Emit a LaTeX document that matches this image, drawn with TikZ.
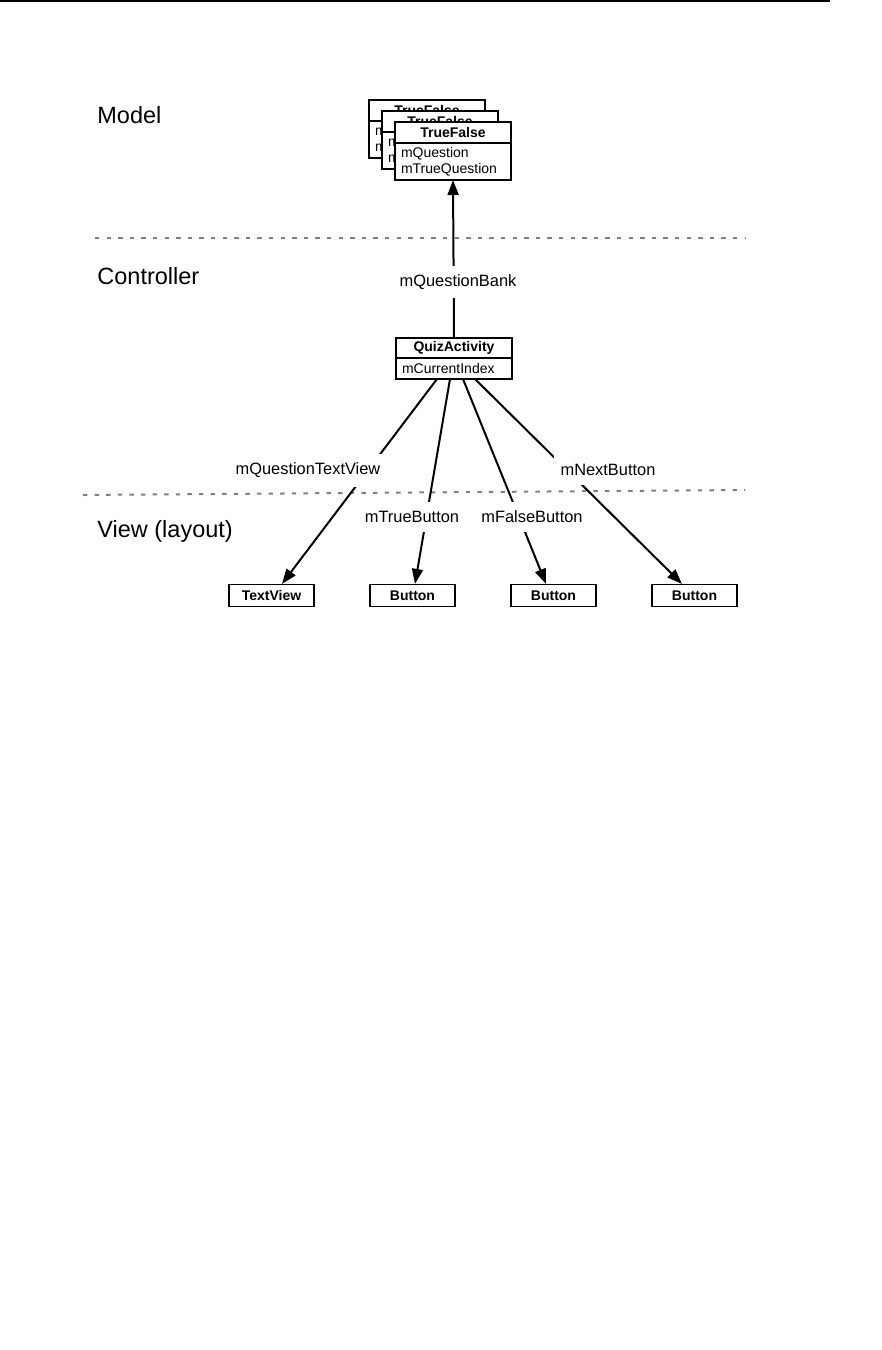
\documentclass[tikz,border=0pt]{standalone}
\usepackage{fontspec}
\setmainfont{Liberation Sans}
\usetikzlibrary{arrows.meta,calc,positioning}

\tikzset{
  cls/.style={draw, line width=0.6pt, fill=white, outer sep=0pt, inner sep=0pt,
    font=\fontsize{7}{8}\selectfont\bfseries, minimum width=58pt, minimum height=10.5pt},
  attrs/.style={draw, line width=0.6pt, fill=white, outer sep=0pt, inner xsep=3pt, inner ysep=0pt,
    font=\fontsize{7}{8}\selectfont, text width=52pt, align=left},
  wid/.style={draw, line width=0.6pt, fill=white, inner sep=0pt,
    font=\fontsize{7}{8}\selectfont\bfseries, minimum width=42.5pt, minimum height=11pt},
  conn/.style={line width=1pt, -{Triangle[length=7.5pt,width=5.5pt]}},
  lbl/.style={fill=white, font=\fontsize{8.2}{10}\selectfont, inner xsep=3.5pt, inner ysep=4.5pt},
  tier/.style={font=\fontsize{11.75}{14}\selectfont, anchor=base west, inner sep=0pt},
  layersep/.style={gray, line width=1pt, dash pattern=on 2.2pt off 3.6pt},
}

\begin{document}
\begin{tikzpicture}[x=0.5pt, y=-0.5pt]
            \useasboundingbox (0,0) rectangle (882,1350);
            \draw[line width=1pt] (0,1) -- (830,1);
            % layers
            \node[tier] (model) at (97,123) {Model};
            \node[tier] (ctrl) at (97,284) {Controller};
            \node[tier] (view) at (97,537) {View (layout)};
            \draw[layersep] (95,238) -- (745,238);
            \draw[layersep] (83,495) -- (745,490);
            % model objects
            \foreach \k in {1,2,3} {
                \node[cls, anchor=north west] (tf\k) at ({369+13*(\k-1)},{100+11*(\k-1)}) {TrueFalse};
                \node[attrs, minimum height=18.5pt, below=0pt of tf\k] (at\k) {mQuestion\\mTrueQuestion};
            }
            % controller
            \node[cls, minimum height=10pt, anchor=north west] (qz) at (396,338) {QuizActivity};
            \node[attrs, minimum height=10.5pt, below=0pt of qz] (qa) {mCurrentIndex};
            % widgets
            \node[wid] (tv) at (271.5,595.5) {TextView};
            \node[wid] (b1) at (412.5,595.5) {Button};
            \node[wid] (b2) at (553.5,595.5) {Button};
            \node[wid] (b3) at (694.5,595.5) {Button};
            % references
            \draw[conn] (qz.north) -- (at3.south);
            \draw[conn] ($(qa.south)+(-17,0)$) -- ($(tv.north)+(10.5,0)$);
            \draw[conn] ($(qa.south)+(-4,0)$) -- ($(b1.north)+(2.5,0)$);
            \draw[conn] ($(qa.south)+(9,0)$) -- ($(b2.north)+(-7.5,0)$);
            \draw[conn] ($(qa.south)+(21,0)$) -- ($(b3.north)+(-12.5,0)$);
            \node[lbl] (bank) at (458,282) {mQuestionBank};
            \node[lbl] (qtv) at (308,470) {mQuestionTextView};
            \node[lbl] (tb) at (412,517) {mTrueButton};
            \node[lbl] (fb) at (532,517) {mFalseButton};
            \node[lbl] (nb) at (608,470) {mNextButton};
        \end{tikzpicture}
\end{document}
